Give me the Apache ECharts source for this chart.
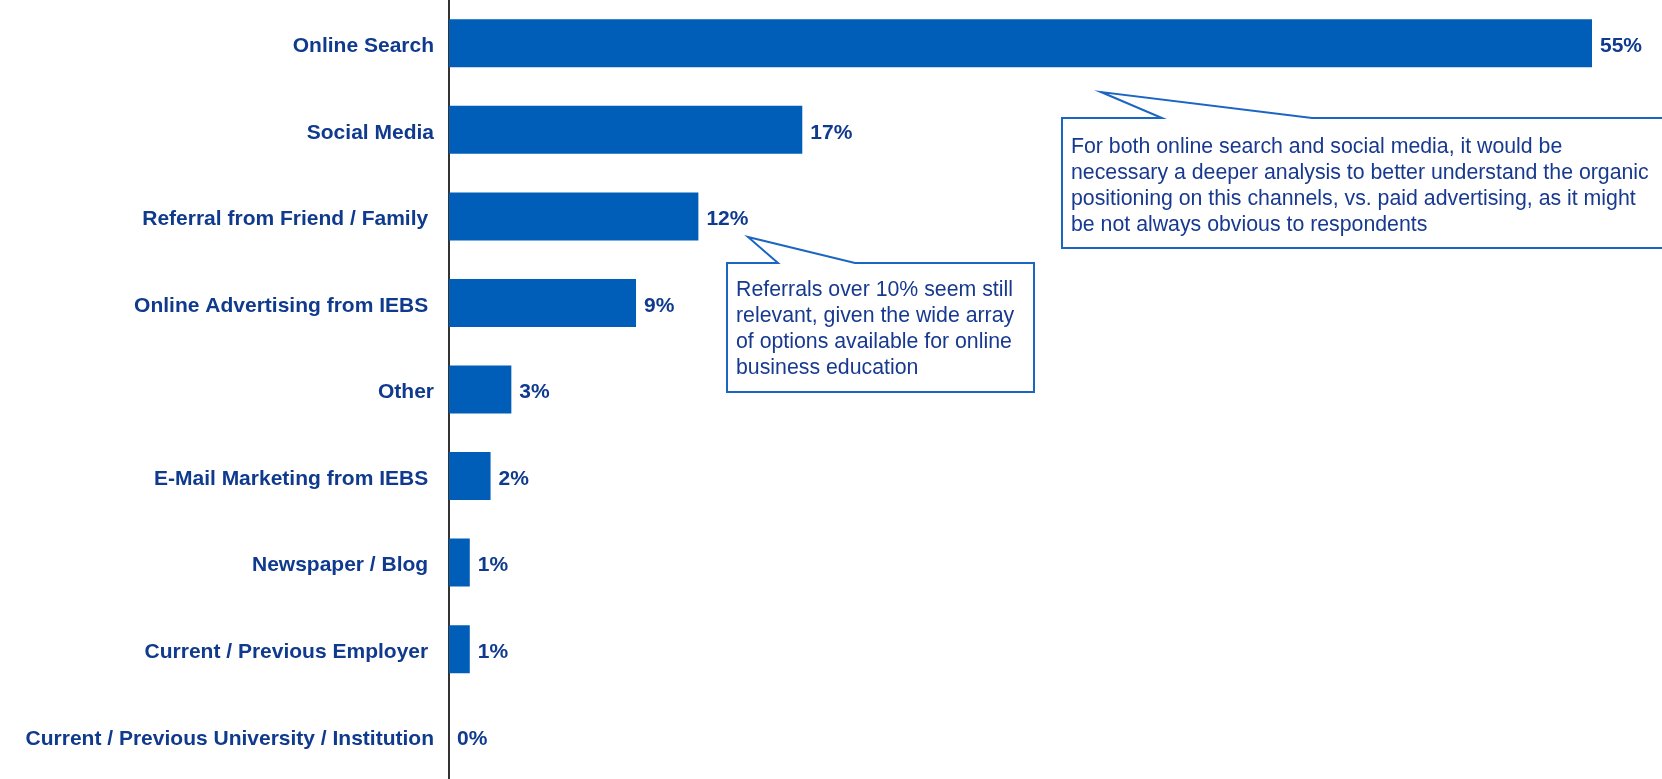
<!DOCTYPE html>
<html>
<head>
<meta charset="utf-8">
<script src="https://cdn.jsdelivr.net/npm/echarts@6/dist/echarts.min.js"></script>
<style>
  html, body { margin: 0; padding: 0; background: #ffffff; }
  #chart { width: 1662px; height: 779px; }
</style>
</head>
<body>
<div id="chart"></div>
<script>
// How respondents first heard about the programme (% of answers)
const categories = [
  'Online Search',
  'Social Media',
  'Referral from Friend / Family ',
  'Online Advertising from IEBS ',
  'Other',
  'E-Mail Marketing from IEBS ',
  'Newspaper / Blog ',
  'Current / Previous Employer ',
  'Current / Previous University / Institution'
];
const shares = [55, 17, 12, 9, 3, 2, 1, 1, 0];

// Callout notes
const searchNoteLines = [
  'For both online search and social media, it would be',
  'necessary a deeper analysis to better understand the organic',
  'positioning on this channels, vs. paid advertising, as it might',
  'be not always obvious to respondents'
];
const referralNoteLines = [
  'Referrals over 10% seem still',
  'relevant, given the wide array',
  'of options available for online',
  'business education'
];

const FONT = '"Liberation Sans", Arial, sans-serif';
const NAVY = '#0f3a8d';
const BAR = '#005eb8';
const NOTE_LINE = '#1b66c2';
const NOTE_TEXT = '#17398f';

const chart = echarts.init(document.getElementById('chart'));

function callout(points, textX, textY, lines) {
  return [
    {
      type: 'polygon',
      shape: { points: points },
      style: { fill: '#ffffff', stroke: NOTE_LINE, lineWidth: 2 },
      z: 10
    },
    {
      type: 'text',
      x: textX,
      y: textY,
      style: {
        text: lines.join('\n'),
        fill: NOTE_TEXT,
        font: '21.3px ' + FONT,
        lineHeight: 26,
        verticalAlign: 'top',
        align: 'left'
      },
      z: 11
    }
  ];
}

chart.setOption({
  animation: false,
  backgroundColor: '#ffffff',
  grid: { left: 449, right: 70, top: 0, bottom: 0, containLabel: false },
  xAxis: {
    type: 'value',
    min: 0,
    max: 55,
    show: false
  },
  yAxis: {
    type: 'category',
    data: categories,
    inverse: true,
    axisLine: { show: true, lineStyle: { color: '#333333', width: 2 } },
    axisTick: { show: false },
    splitLine: { show: false },
    axisLabel: {
      margin: 15,
      formatter: function (v) { return '{c|' + v + '}'; },
      rich: {
        c: {
          padding: [6, 0, 0, 0],
          color: NAVY,
          fontFamily: FONT,
          fontWeight: 'bold',
          fontSize: 21
        }
      }
    }
  },
  series: [{
    type: 'bar',
    data: shares,
    barWidth: 48,
    itemStyle: { color: BAR },
    label: {
      show: true,
      position: 'right',
      distance: 8,
      offset: [0, 3],
      formatter: '{c}%',
      color: NAVY,
      fontFamily: FONT,
      fontWeight: 'bold',
      fontSize: 21
    }
  }],
  graphic: [].concat(
    callout(
      [[1062, 118], [1162, 118], [1101, 92], [1312, 118], [1672, 118], [1672, 248], [1062, 248]],
      1071, 134, searchNoteLines
    ),
    callout(
      [[727, 263], [778, 263], [748, 237], [855, 263], [1034, 263], [1034, 392], [727, 392]],
      736, 277, referralNoteLines
    )
  )
});
</script>
</body>
</html>
